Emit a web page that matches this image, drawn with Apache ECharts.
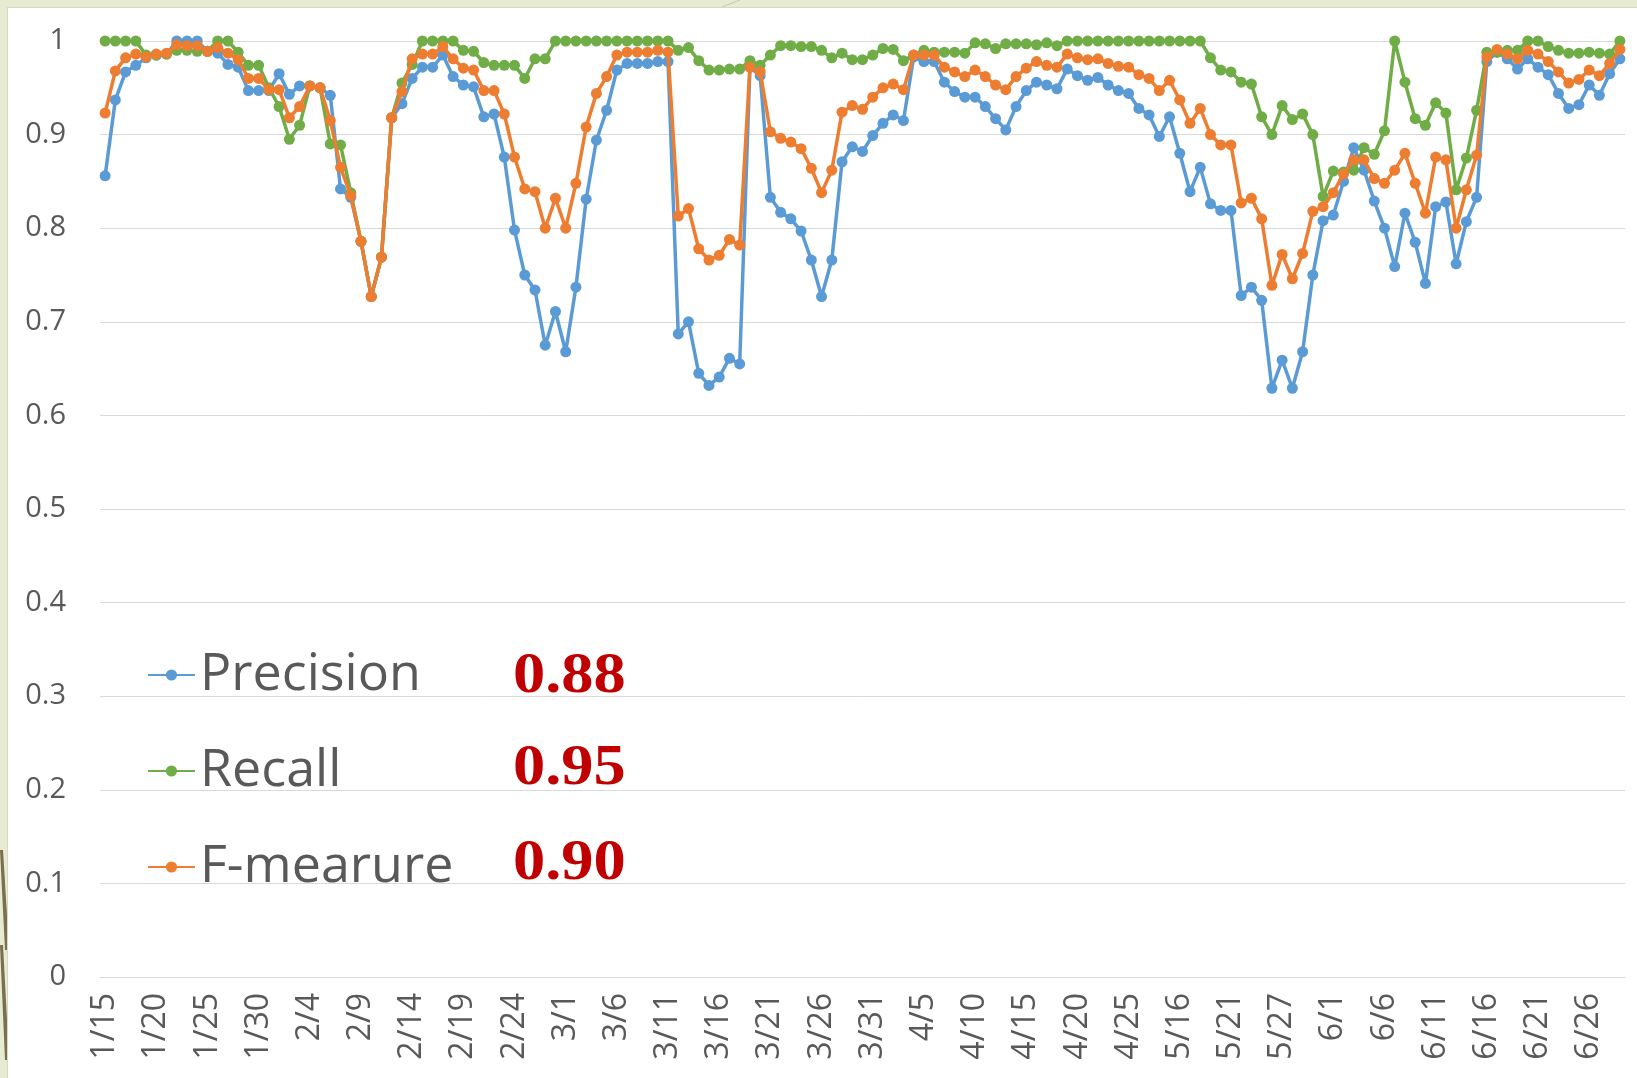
<!DOCTYPE html>
<html>
<head>
<meta charset="utf-8">
<script src="https://cdn.jsdelivr.net/npm/echarts@6/dist/echarts.min.js"></script>
<style>
html,body{margin:0;padding:0;background:#e6ebd2;width:1637px;height:1078px;overflow:hidden;}
#paper{position:absolute;left:7px;top:7px;right:0;bottom:0;background:#ffffff;border-left:1px solid #d4d8c6;border-top:1px solid #d4d8c6;}
#chart{position:absolute;left:0;top:0;width:1637px;height:1078px;}
</style>
</head>
<body>
<div id="paper"></div>
<div id="chart"></div>
<script>
const categories = [
'1/15','1/16','1/17','1/18','1/19','1/20','1/21','1/22','1/23','1/24','1/25','1/26','1/27','1/28','1/29','1/30','1/31',
'2/1','2/2','2/3','2/4','2/5','2/6','2/7','2/8','2/9','2/10','2/11','2/12','2/13','2/14','2/15','2/16','2/17','2/18','2/19','2/20','2/21','2/22','2/23','2/24','2/25','2/26','2/27','2/28',
'3/1','3/2','3/3','3/4','3/5','3/6','3/7','3/8','3/9','3/10','3/11','3/12','3/13','3/14','3/15','3/16','3/17','3/18','3/19','3/20','3/21','3/22','3/23','3/24','3/25','3/26','3/27','3/28','3/29','3/30','3/31',
'4/1','4/2','4/3','4/4','4/5','4/6','4/7','4/8','4/9','4/10','4/11','4/12','4/13','4/14','4/15','4/16','4/17','4/18','4/19','4/20','4/21','4/22','4/23','4/24','4/25',
'4/26','4/27','4/28','4/29',
'5/16','5/17','5/18','5/19','5/20','5/21','5/22','5/23','5/25','5/26','5/27','5/28','5/29','5/30','5/31',
'6/1','6/2','6/3','6/4','6/5','6/6','6/7','6/8','6/9','6/10','6/11','6/12','6/13','6/14','6/15','6/16','6/17','6/18','6/19','6/20','6/21','6/22','6/23','6/24','6/25','6/26','6/27','6/28','6/29'
];

const precision = [
0.856,0.937,0.967,0.974,0.982,0.985,0.986,1.0,1.0,1.0,
0.989,0.987,0.975,0.972,0.947,0.947,0.947,0.965,0.943,0.952,
0.952,0.950,0.942,0.842,0.833,0.786,0.727,0.769,0.918,0.933,
0.960,0.972,0.972,0.985,0.962,0.953,0.951,0.919,0.922,0.876,
0.798,0.750,0.734,0.675,0.711,0.668,0.737,0.831,0.894,0.926,
0.969,0.976,0.976,0.976,0.978,0.978,0.687,0.700,0.645,0.632,
0.641,0.661,0.655,0.972,0.963,0.833,0.817,0.810,0.797,0.766,
0.727,0.766,0.871,0.887,0.882,0.899,0.912,0.921,0.915,0.983,
0.978,0.978,0.956,0.946,0.940,0.940,0.930,0.917,0.905,0.930,
0.947,0.956,0.953,0.949,0.970,0.963,0.958,0.961,0.953,0.947,
0.944,0.928,0.921,0.898,0.919,0.880,0.839,0.865,0.826,0.819,
0.819,0.728,0.737,0.723,0.629,0.659,0.629,0.668,0.750,0.808,
0.814,0.850,0.886,0.862,0.829,0.800,0.759,0.816,0.785,0.741,
0.823,0.828,0.762,0.807,0.833,0.978,0.988,0.981,0.970,0.981,
0.972,0.964,0.944,0.928,0.932,0.953,0.942,0.965,0.981
];

const recall = [
1.0,1.0,1.0,1.0,0.985,0.985,0.986,0.990,0.990,0.989,
0.989,1.0,1.0,0.988,0.974,0.974,0.950,0.930,0.895,0.910,
0.952,0.950,0.890,0.889,0.838,0.786,0.727,0.769,0.918,0.955,
0.975,1.0,1.0,1.0,1.0,0.990,0.989,0.977,0.974,0.974,
0.974,0.960,0.981,0.981,1.0,1.0,1.0,1.0,1.0,1.0,
1.0,1.0,1.0,1.0,1.0,1.0,0.990,0.993,0.979,0.969,
0.969,0.970,0.970,0.979,0.974,0.985,0.995,0.995,0.994,0.994,
0.990,0.982,0.987,0.980,0.980,0.985,0.992,0.991,0.979,0.985,
0.990,0.988,0.988,0.988,0.987,0.998,0.997,0.992,0.997,0.997,
0.997,0.996,0.998,0.995,1.0,1.0,1.0,1.0,1.0,1.0,
1.0,1.0,1.0,1.0,1.0,1.0,1.0,1.0,0.982,0.969,
0.967,0.956,0.954,0.919,0.900,0.931,0.916,0.922,0.900,0.834,
0.861,0.860,0.862,0.886,0.879,0.904,1.0,0.956,0.917,0.910,
0.934,0.923,0.841,0.875,0.926,0.988,0.988,0.990,0.990,1.0,
1.0,0.994,0.990,0.987,0.987,0.988,0.987,0.986,1.0
];

const fmeasure = [
0.923,0.968,0.982,0.986,0.983,0.986,0.987,0.996,0.995,0.995,
0.989,0.993,0.987,0.980,0.960,0.960,0.948,0.948,0.918,0.930,
0.952,0.950,0.915,0.865,0.835,0.786,0.727,0.769,0.918,0.946,
0.981,0.986,0.986,0.994,0.981,0.971,0.969,0.947,0.947,0.922,
0.876,0.842,0.839,0.800,0.832,0.800,0.848,0.908,0.944,0.962,
0.985,0.988,0.988,0.988,0.990,0.988,0.813,0.821,0.778,0.766,
0.771,0.788,0.782,0.972,0.967,0.903,0.896,0.892,0.885,0.864,
0.838,0.862,0.924,0.931,0.927,0.940,0.950,0.954,0.948,0.985,
0.985,0.985,0.972,0.967,0.962,0.969,0.962,0.953,0.948,0.962,
0.971,0.978,0.974,0.972,0.986,0.982,0.980,0.981,0.976,0.973,
0.972,0.964,0.960,0.947,0.958,0.937,0.912,0.928,0.900,0.889,
0.889,0.827,0.832,0.810,0.739,0.772,0.746,0.773,0.818,0.823,
0.838,0.858,0.873,0.873,0.853,0.848,0.862,0.880,0.848,0.816,
0.876,0.873,0.800,0.841,0.878,0.983,0.991,0.986,0.981,0.990,
0.986,0.978,0.967,0.955,0.959,0.969,0.963,0.976,0.991
];

const seriesNames = ['Precision','Recall','F-mearure'];
const averages = ['0.88','0.95','0.90'];
const colors = ['#5B9BD5','#70AD47','#ED7D31'];

const chart = echarts.init(document.getElementById('chart'), null, {renderer:'canvas'});
const dataSets = [precision, recall, fmeasure];
const baseFont = 'Open Sans';

const option = {
  backgroundColor: 'transparent',
  animation: false,
  color: colors,
  grid: {left: 100, right: 12, top: 41, bottom: 101, containLabel: false},
  legend: {
    orient: 'vertical',
    left: 142,
    top: 640,
    itemWidth: 47,
    itemHeight: 14,
    itemGap: 36,
    data: seriesNames,
    textStyle: {fontFamily: baseFont, fontSize: 52, color: '#595959', lineHeight: 60}
  },
  xAxis: {
    type: 'category',
    data: categories,
    boundaryGap: true,
    axisTick: {show: false},
    axisLine: {lineStyle: {color: '#d9d9d9', width: 1}},
    axisLabel: {interval: 4, rotate: 90, margin: 16, fontFamily: baseFont, fontSize: 32, color: '#595959'}
  },
  yAxis: {
    type: 'value',
    min: 0, max: 1, interval: 0.1,
    axisLine: {show: false},
    axisTick: {show: false},
    splitLine: {lineStyle: {color: '#d9d9d9', width: 1}},
    axisLabel: {margin: 34, fontFamily: baseFont, fontSize: 29, color: '#595959'}
  },
  series: seriesNames.map((n, k) => ({
    name: n,
    type: 'line',
    data: dataSets[k],
    symbol: 'circle',
    symbolSize: 11,
    showAllSymbol: true,
    lineStyle: {width: 3.5, color: colors[k]},
    itemStyle: {color: colors[k]},
    z: 2 + k
  })),
  graphic: [
    ...averages.map((t, k) => ({
      type: 'text',
      left: 513,
      top: [650, 742, 837][k],
      scaleX: 1.15,
      style: {text: t, fill: '#C00000', font: 'bold 56px "Liberation Serif"'}
    })),
    {type: 'polygon', shape: {points: [[0,850],[3,850],[7,915],[7,950],[5,950]]}, style: {fill: '#7a6f4f'}},
    {type: 'polygon', shape: {points: [[0,945],[3,945],[7,1020],[7,1060],[5,1060]]}, style: {fill: '#7a6f4f'}},
    {type: 'line', shape: {x1: 740, y1: 0, x2: 722, y2: 7}, style: {stroke: '#c5cbae', lineWidth: 1}}
  ]
};
chart.setOption(option);
</script>
</body>
</html>
